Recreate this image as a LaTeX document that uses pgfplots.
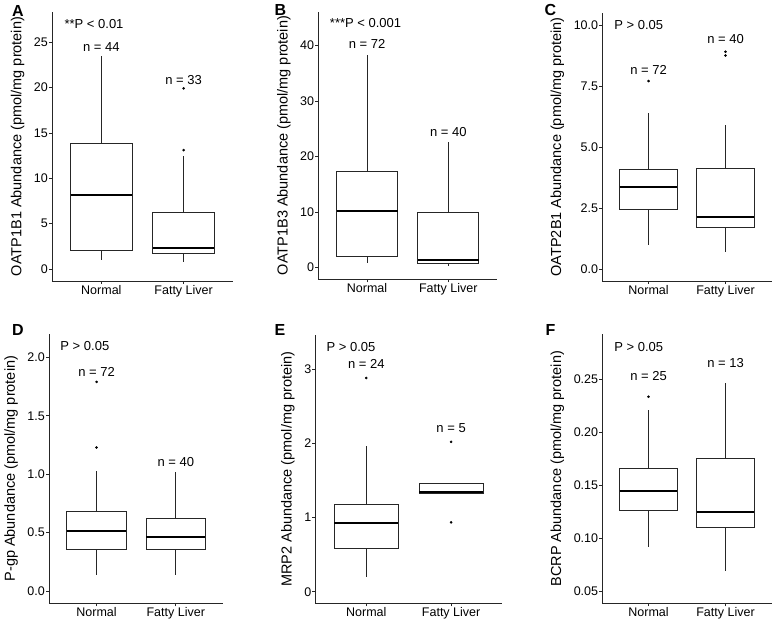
\documentclass[border=0pt]{standalone}
\usepackage{fontspec}
\setmainfont{Liberation Sans}
\usepackage{pgfplots}
\pgfplotsset{compat=1.18}
\usepgfplotslibrary{statistics}
\begin{document}
\begin{tikzpicture}
\useasboundingbox (0pt,0pt) rectangle (773pt,620pt);
\pgfplotsset{
 panel/.style={
  scale only axis, anchor=south west, clip=false,
  font=\fontsize{13}{15}\selectfont,
  axis lines*=left, axis line style={black!85,line width=0.6pt},
  enlargelimits=false,
  xmin=0.4,xmax=2.6,xtick={1,2},xticklabels={Normal,Fatty Liver},
  tick align=outside, major tick length=3pt,
  tick style={black!85,line width=0.6pt},
  ticklabel style={font=\fontsize{12.5}{14}\selectfont},
  yticklabel style={inner sep=1pt},
  xticklabel style={inner sep=1pt},
  ylabel style={font=\fontsize{14.5}{16}\selectfont, yshift=5pt},
  boxplot/draw direction=y,
  boxplot/box extend=0.75, boxplot/whisker extend=0,
  boxplot/every box/.style={draw=black!85,fill=white,line width=0.7pt},
  boxplot/every whisker/.style={draw=black!85,line width=0.7pt},
  boxplot/every median/.style={draw=black,line width=2pt},
 },
 bx/.style={black, mark=*, mark size=1.1pt, mark options={fill=black,draw=black}},
}
% ---------- A ----------
\begin{axis}[panel, at={(52pt,339pt)}, width=181pt, height=269pt,
  ymin=-1.3, ymax=28.3, ytick={0,5,10,15,20,25}, yticklabels={0,5,10,15,20,25},
  ylabel={OATP1B1 Abundance (pmol/mg protein)}]
\addplot[bx, boxplot prepared={draw position=1, lower whisker=1.0, lower quartile=2.05, median=8.15, upper quartile=13.8, upper whisker=23.5}] coordinates {};
\addplot[bx, boxplot prepared={draw position=2, lower whisker=0.8, lower quartile=1.7, median=2.3, upper quartile=6.2, upper whisker=12.5}] table[row sep=\\,y index=0] {13.1\\ 19.9\\};
\node[anchor=west] at (axis cs:0.51,26.95) {**P < 0.01};
\node at (axis cs:1,24.46) {n = 44};
\node at (axis cs:2,20.8) {n = 33};
\end{axis}
% ---------- B ----------
\begin{axis}[panel, at={(318.3pt,340.7pt)}, width=178.7pt, height=267.6pt,
  ymin=-2.09, ymax=46.1, ytick={0,10,20,30,40}, yticklabels={0,10,20,30,40},
  ylabel={OATP1B3 Abundance (pmol/mg protein)}]
\addplot[bx, boxplot prepared={draw position=1, lower whisker=0.8, lower quartile=2.1, median=10.25, upper quartile=17.4, upper whisker=38.3}] coordinates {};
\addplot[bx, boxplot prepared={draw position=2, lower whisker=0.36, lower quartile=0.8, median=1.4, upper quartile=9.95, upper whisker=22.7}] coordinates {};
\node[anchor=west] at (axis cs:0.5,44.0) {***P < 0.001};
\node at (axis cs:1,40.25) {n = 72};
\node at (axis cs:2,24.5) {n = 40};
\end{axis}
% ---------- C ----------
\begin{axis}[panel, at={(602.3pt,339pt)}, width=169.4pt, height=268.3pt,
  ymin=-0.48, ymax=10.5, ytick={0,2.5,5,7.5,10}, yticklabels={0.0,2.5,5.0,7.5,10.0},
  ylabel={OATP2B1 Abundance (pmol/mg protein)}]
\addplot[bx, boxplot prepared={draw position=1, lower whisker=0.99, lower quartile=2.46, median=3.38, upper quartile=4.09, upper whisker=6.38}] table[row sep=\\,y index=0] {7.7\\};
\addplot[bx, boxplot prepared={draw position=2, lower whisker=0.72, lower quartile=1.70, median=2.15, upper quartile=4.12, upper whisker=5.9}] table[row sep=\\,y index=0] {8.75\\ 8.9\\};
\node[anchor=west] at (axis cs:0.51,10.0) {P > 0.05};
\node at (axis cs:1,8.16) {n = 72};
\node at (axis cs:2,9.43) {n = 40};
\end{axis}
% ---------- D ----------
\begin{axis}[panel, at={(49pt,16.7pt)}, width=174.3pt, height=269.3pt,
  ymin=-0.105, ymax=2.2, ytick={0,0.5,1,1.5,2}, yticklabels={0.0,0.5,1.0,1.5,2.0},
  ylabel={P-gp Abundance (pmol/mg protein)}]
\addplot[bx, boxplot prepared={draw position=1, lower whisker=0.134, lower quartile=0.357, median=0.51, upper quartile=0.686, upper whisker=1.03}] table[row sep=\\,y index=0] {1.228\\ 1.79\\};
\addplot[bx, boxplot prepared={draw position=2, lower whisker=0.134, lower quartile=0.36, median=0.465, upper quartile=0.626, upper whisker=1.017}] coordinates {};
\node[anchor=west] at (axis cs:0.5,2.093) {P > 0.05};
\node at (axis cs:1,1.879) {n = 72};
\node at (axis cs:2,1.108) {n = 40};
\end{axis}
% ---------- E ----------
\begin{axis}[panel, at={(315.4pt,16.7pt)}, width=186.6pt, height=268.3pt,
  ymin=-0.156, ymax=3.46, ytick={0,1,2,3}, yticklabels={0,1,2,3},
  ylabel={MRP2 Abundance (pmol/mg protein)}]
\addplot[bx, boxplot prepared={draw position=1, lower whisker=0.20, lower quartile=0.58, median=0.92, upper quartile=1.18, upper whisker=1.97}] table[row sep=\\,y index=0] {2.88\\};
\addplot[bx, boxplot prepared={draw position=2, lower whisker=1.33, lower quartile=1.33, median=1.35, upper quartile=1.46, upper whisker=1.46}] table[row sep=\\,y index=0] {0.935\\ 2.02\\};
\node[anchor=west] at (axis cs:0.49,3.30) {P > 0.05};
\node at (axis cs:1,3.07) {n = 24};
\node at (axis cs:2,2.20) {n = 5};
\end{axis}
% ---------- F ----------
\begin{axis}[panel, at={(602.3pt,16.7pt)}, width=169.4pt, height=269.3pt,
  ymin=0.0384, ymax=0.2925, ytick={0.05,0.1,0.15,0.2,0.25}, yticklabels={0.05,0.10,0.15,0.20,0.25},
  ylabel={BCRP Abundance (pmol/mg protein)}]
\addplot[bx, boxplot prepared={draw position=1, lower whisker=0.0912, lower quartile=0.126, median=0.1443, upper quartile=0.166, upper whisker=0.2208}] table[row sep=\\,y index=0] {0.2333\\};
\addplot[bx, boxplot prepared={draw position=2, lower whisker=0.069, lower quartile=0.110, median=0.125, upper quartile=0.175, upper whisker=0.2466}] coordinates {};
\node[anchor=west] at (axis cs:0.51,0.2805) {P > 0.05};
\node at (axis cs:1,0.2528) {n = 25};
\node at (axis cs:2,0.2654) {n = 13};
\end{axis}
% panel letters
\begin{scope}[font=\bfseries\fontsize{16}{16}\selectfont]
\node at (17.8pt,609pt) {A};
\node at (280.5pt,610pt) {B};
\node at (550.5pt,610pt) {C};
\node at (17.8pt,290pt) {D};
\node at (280pt,290pt) {E};
\node at (550.5pt,290pt) {F};
\end{scope}
\end{tikzpicture}
\end{document}
